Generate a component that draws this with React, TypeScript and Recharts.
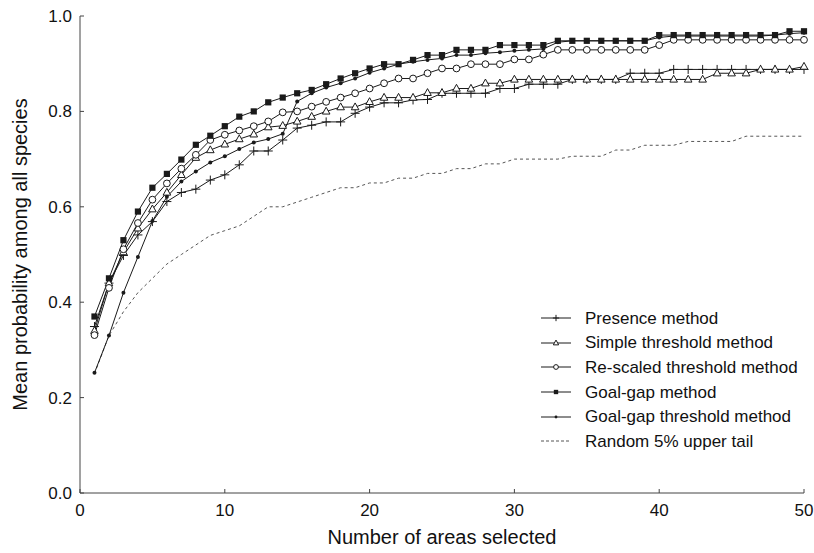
import React from 'react';
import { LineChart, Line, XAxis, YAxis, Legend } from 'recharts';

const areas = [1,2,3,4,5,6,7,8,9,10,11,12,13,14,15,16,17,18,19,20,21,22,23,24,25,26,27,28,29,30,31,32,33,34,35,36,37,38,39,40,41,42,43,44,45,46,47,48,49,50];

const presence = [0.349,0.44,0.498,0.541,0.569,0.611,0.63,0.637,0.656,0.667,
  0.688,0.717,0.717,0.74,0.765,0.771,0.778,0.778,0.796,0.809,
  0.818,0.818,0.824,0.825,0.838,0.838,0.838,0.838,0.848,0.848,
  0.857,0.857,0.857,0.867,0.867,0.867,0.867,0.88,0.88,0.88,
  0.888,0.888,0.888,0.888,0.888,0.888,0.888,0.888,0.888,0.888];

const simpleThr = [0.34,0.44,0.505,0.555,0.595,0.63,0.667,0.703,0.719,0.731,
  0.742,0.752,0.767,0.77,0.779,0.789,0.8,0.809,0.809,0.82,
  0.829,0.829,0.829,0.839,0.839,0.848,0.848,0.859,0.859,0.867,
  0.867,0.867,0.867,0.867,0.867,0.867,0.867,0.867,0.867,0.867,
  0.867,0.867,0.867,0.88,0.88,0.88,0.888,0.888,0.888,0.894];

const rescaledThr = [0.331,0.43,0.511,0.566,0.615,0.649,0.68,0.709,0.74,0.751,
  0.76,0.769,0.779,0.798,0.8,0.81,0.82,0.829,0.838,0.848,
  0.859,0.869,0.869,0.88,0.89,0.89,0.899,0.899,0.899,0.909,
  0.909,0.919,0.929,0.929,0.929,0.929,0.929,0.929,0.929,0.939,
  0.95,0.95,0.95,0.95,0.95,0.95,0.95,0.95,0.95,0.95];

const goalGap = [0.37,0.45,0.53,0.59,0.64,0.669,0.699,0.73,0.749,0.769,
  0.789,0.8,0.819,0.829,0.838,0.845,0.857,0.869,0.88,0.89,
  0.899,0.899,0.908,0.918,0.918,0.929,0.929,0.929,0.939,0.939,
  0.939,0.939,0.948,0.948,0.948,0.948,0.948,0.948,0.948,0.96,
  0.96,0.96,0.96,0.96,0.96,0.96,0.96,0.96,0.968,0.968];

const goalGapThr = [0.252,0.33,0.42,0.495,0.57,0.621,0.653,0.674,0.693,0.706,
  0.721,0.735,0.742,0.753,0.821,0.838,0.85,0.859,0.869,0.881,
  0.89,0.899,0.904,0.908,0.911,0.918,0.918,0.922,0.924,0.927,
  0.929,0.931,0.945,0.948,0.948,0.948,0.948,0.948,0.948,0.955,
  0.958,0.958,0.958,0.958,0.958,0.958,0.958,0.96,0.963,0.965];

const randomTail = [0.25,0.33,0.38,0.42,0.45,0.48,0.5,0.52,0.54,0.55,
  0.56,0.58,0.6,0.6,0.61,0.62,0.63,0.64,0.64,0.65,
  0.65,0.66,0.66,0.67,0.67,0.68,0.68,0.69,0.69,0.7,
  0.7,0.7,0.7,0.706,0.706,0.706,0.719,0.719,0.729,0.729,
  0.729,0.737,0.737,0.737,0.737,0.748,0.748,0.748,0.748,0.748];

const xTicks = [0, 10, 20, 30, 40, 50];
const yTicks = [0, 0.2, 0.4, 0.6, 0.8, 1.0];

const seriesNames = [
  'Presence method',
  'Simple threshold method',
  'Re-scaled threshold method',
  'Goal-gap method',
  'Goal-gap threshold method',
  'Random 5% upper tail',
];

const data = areas.map((x, i) => ({
  x,
  presence: presence[i],
  simpleThr: simpleThr[i],
  rescaledThr: rescaledThr[i],
  goalGap: goalGap[i],
  goalGapThr: goalGapThr[i],
  randomTail: randomTail[i],
}));

const INK = '#1a1a1a';
const FONT = '"Liberation Sans", Arial, Helvetica, sans-serif';

type MarkerKind = 'plus' | 'triangle' | 'circle' | 'square' | 'dot' | 'none';

function Marker({ kind, cx, cy, s = 1 }: { kind: MarkerKind; cx: number; cy: number; s?: number }) {
  if (kind === 'plus') {
    const h = 4.5 * s;
    return <path d={`M${cx - h},${cy}H${cx + h}M${cx},${cy - h}V${cy + h}`} stroke={INK} strokeWidth={1} fill="none" />;
  }
  if (kind === 'triangle') {
    const a = 3.8 * s;
    return <polygon points={`${cx},${cy - a * 1.1} ${cx - a},${cy + a * 0.7} ${cx + a},${cy + a * 0.7}`} fill="#fff" stroke={INK} strokeWidth={1} />;
  }
  if (kind === 'circle') {
    return <circle cx={cx} cy={cy} r={3.4 * s} fill="#fff" stroke={INK} strokeWidth={1} />;
  }
  if (kind === 'square') {
    const a = 3.1 * s;
    return <rect x={cx - a} y={cy - a} width={2 * a} height={2 * a} fill={INK} />;
  }
  if (kind === 'dot') {
    return <circle cx={cx} cy={cy} r={2 * s} fill={INK} />;
  }
  return null;
}

const makeDot = (kind: MarkerKind) => (props: any) => {
  const { cx, cy, index } = props;
  if (cx == null || cy == null) return <g key={`e-${index}`} />;
  return (
    <g key={`${kind}-${index}`}>
      <Marker kind={kind} cx={cx} cy={cy} />
    </g>
  );
};

const legendKinds: MarkerKind[] = ['plus', 'triangle', 'circle', 'square', 'dot', 'none'];

const renderLegend = () => (
  <div style={{ fontFamily: FONT, fontSize: 17, color: '#111', lineHeight: 1 }}>
    {seriesNames.map((name, i) => (
      <div key={name} style={{ display: 'flex', alignItems: 'center', height: 24.6, whiteSpace: 'nowrap' }}>
        <svg width={30} height={12} style={{ display: 'block' }}>
          <line x1={0} x2={30} y1={6} y2={6} stroke={i === 5 ? '#555' : INK} strokeWidth={1} strokeDasharray={i === 5 ? '3 2' : undefined} />
          <Marker kind={legendKinds[i]} cx={15} cy={6} s={0.7} />
        </svg>
        <span style={{ marginLeft: 14 }}>{name}</span>
      </div>
    ))}
  </div>
);

const YTitle = (props: any) => {
  const vb = props.viewBox || {};
  const cy = vb.y + vb.height / 2;
  const cx = 20;
  return (
    <text x={cx} y={cy} transform={`rotate(-90 ${cx} ${cy})`} textAnchor="middle" dominantBaseline="central" fontFamily={FONT} fontSize={20} fill="#111">
      Mean probability among all species
    </text>
  );
};

const XTitle = (props: any) => {
  const vb = props.viewBox || {};
  const cx = vb.x + vb.width / 2;
  return (
    <text x={cx} y={537} textAnchor="middle" dominantBaseline="central" fontFamily={FONT} fontSize={20} fill="#111">
      Number of areas selected
    </text>
  );
};

export default function App() {
  const tickStyle = { fontFamily: FONT, fontSize: 17, fill: '#111' };
  return (
    <div style={{ position: 'absolute', left: 0, top: 0, width: 814, height: 553, background: '#fff' }}>
      <LineChart width={814} height={553} data={data} margin={{ top: 16, right: 10, bottom: 30, left: 20 }}>
        <XAxis
          type="number"
          dataKey="x"
          domain={[0, 50]}
          ticks={xTicks}
          interval={0}
          tickSize={-4}
          tickMargin={15}
          height={30}
          stroke="#444"
          tick={tickStyle}
          label={<XTitle />}
        />
        <YAxis
          type="number"
          domain={[0, 1]}
          ticks={yTicks}
          interval={0}
          tickSize={-4}
          tickMargin={12}
          width={60}
          stroke="#444"
          tick={tickStyle}
          tickFormatter={(v: number) => v.toFixed(1)}
          label={<YTitle />}
        />
        <Legend layout="vertical" align="center" verticalAlign="middle" content={renderLegend} wrapperStyle={{ left: 541, top: 306, width: 270, height: 150 }} />
        <Line dataKey="randomTail" stroke="#555" strokeWidth={1} strokeDasharray="3 3" dot={false} isAnimationActive={false} />
        <Line dataKey="presence" stroke={INK} strokeWidth={1} dot={makeDot('plus')} isAnimationActive={false} />
        <Line dataKey="simpleThr" stroke={INK} strokeWidth={1} dot={makeDot('triangle')} isAnimationActive={false} />
        <Line dataKey="rescaledThr" stroke={INK} strokeWidth={1} dot={makeDot('circle')} isAnimationActive={false} />
        <Line dataKey="goalGapThr" stroke={INK} strokeWidth={1} dot={makeDot('dot')} isAnimationActive={false} />
        <Line dataKey="goalGap" stroke={INK} strokeWidth={1} dot={makeDot('square')} isAnimationActive={false} />
      </LineChart>
    </div>
  );
}
